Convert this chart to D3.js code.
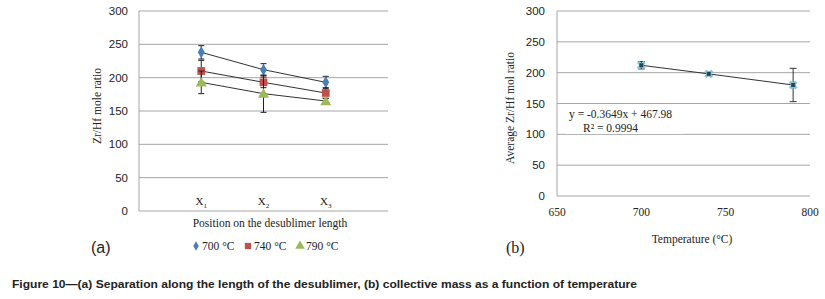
<!DOCTYPE html>
<html>
<head>
<meta charset="utf-8">
<script src="https://cdn.jsdelivr.net/npm/d3@7"></script>
<style>
  body { margin: 0; background: #fff; }
  svg { display: block; }
</style>
</head>
<body>
<svg id="fig" width="825" height="299"></svg>
<script>
// chart (a) data
const positions = ['X1', 'X2', 'X3']
const seriesNames = ['700 °C', '740 °C', '790 °C']
const ratio700 = [238, 212, 193]
const ratio740 = [210, 193, 177]
const ratio790 = [193, 176, 165]
const err700 = [10, 9, 9]
const err740 = [16, 8, 8]
const err790 = [17, 28, 4]
const yTicksA = [0, 50, 100, 150, 200, 250, 300]

// chart (b) data
const temps = [700, 740, 790]
const avgRatio = [212, 198, 180]
const avgErr = [6, 3, 27]
const xTicksB = [650, 700, 750, 800]
const yTicksB = [0, 50, 100, 150, 200, 250, 300]

const colors = ['#4a7ebb', '#c0504d', '#9bbb59']
const gridColor = '#a6a6a6'
const serif = "'Liberation Serif', 'DejaVu Serif', serif"
const sans = "'Liberation Sans', Arial, sans-serif"

const svg = d3.select('#fig')

// ---------- chart (a) ----------
const a = { left: 139, right: 388, top: 11, bottom: 211 }
const xA = d3.scalePoint().domain(positions).range([a.left, a.right]).padding(1)
const yA = d3.scaleLinear().domain([0, 300]).range([a.bottom, a.top])

const gA = svg.append('g')

gA.selectAll('.grid')
  .data(yTicksA)
  .enter()
  .append('line')
  .attr('x1', a.left)
  .attr('x2', a.right)
  .attr('y1', d => yA(d))
  .attr('y2', d => yA(d))
  .attr('stroke', gridColor)
  .attr('stroke-width', 1)

gA.append('line')
  .attr('x1', a.left).attr('x2', a.left)
  .attr('y1', a.top).attr('y2', a.bottom)
  .attr('stroke', gridColor)

gA.selectAll('.ytick')
  .data(yTicksA)
  .enter()
  .append('text')
  .attr('x', a.left - 11)
  .attr('y', d => yA(d))
  .attr('dy', '0.35em')
  .attr('text-anchor', 'end')
  .style('font-family', sans)
  .style('font-size', '11.5px')
  .attr('fill', '#222')
  .text(d => d)

// category labels with subscripts, sitting just above the baseline
gA.selectAll('.xlab')
  .data(positions)
  .enter()
  .append('text')
  .attr('x', d => xA(d))
  .attr('y', a.bottom - 6)
  .attr('text-anchor', 'middle')
  .style('font-family', serif)
  .style('font-size', '11px')
  .attr('fill', '#222')
  .each(function(d) {
    const t = d3.select(this)
    t.append('tspan').text('X')
    t.append('tspan').attr('dy', 3).style('font-size', '7px').text(d.slice(1))
  })

gA.append('text')
  .attr('x', 270)
  .attr('y', 227)
  .attr('text-anchor', 'middle')
  .style('font-family', serif)
  .style('font-size', '11.5px')
  .attr('fill', '#222')
  .text('Position on the desublimer length')

gA.append('text')
  .attr('transform', 'translate(101,106) rotate(-90)')
  .attr('text-anchor', 'middle')
  .style('font-family', serif)
  .style('font-size', '11.5px')
  .attr('fill', '#222')
  .text('Zr/Hf mole ratio')

const seriesA = [ratio700, ratio740, ratio790]
const errA = [err700, err740, err790]
const symbols = [d3.symbolDiamond, d3.symbolSquare, d3.symbolTriangle]
const symSizes = [42, 60, 52]

const lineA = d3.line()
  .x((d, i) => xA(positions[i]))
  .y(d => yA(d))

seriesA.forEach(function(vals, s) {
  gA.append('path')
    .datum(vals)
    .attr('d', lineA)
    .attr('fill', 'none')
    .attr('stroke', '#333')
    .attr('stroke-width', 1)

  vals.forEach(function(v, i) {
    const x = xA(positions[i])
    const e = errA[s][i]
    gA.append('line')
      .attr('x1', x).attr('x2', x)
      .attr('y1', yA(v - e)).attr('y2', yA(v + e))
      .attr('stroke', '#222')
    ;[v - e, v + e].forEach(function(c) {
      gA.append('line')
        .attr('x1', x - 3).attr('x2', x + 3)
        .attr('y1', yA(c)).attr('y2', yA(c))
        .attr('stroke', '#222')
    })
  })

  gA.selectAll('.m' + s)
    .data(vals)
    .enter()
    .append('path')
    .attr('d', d3.symbol().type(symbols[s]).size(symSizes[s]))
    .attr('transform', (d, i) => 'translate(' + xA(positions[i]) + ',' + (yA(d) + (s === 2 ? 1 : 0)) + ')')
    .attr('fill', colors[s])
})

// legend
const legendX = [192, 244, 296]
seriesNames.forEach(function(name, s) {
  gA.append('path')
    .attr('d', d3.symbol().type(symbols[s]).size(s === 0 ? 26 : 40))
    .attr('transform', 'translate(' + (legendX[s] + 4) + ',246)')
    .attr('fill', colors[s])
  gA.append('text')
    .attr('x', legendX[s] + 10)
    .attr('y', 250)
    .style('font-family', serif)
    .style('font-size', '11.5px')
    .attr('fill', '#222')
    .text(name)
})

svg.append('text')
  .attr('x', 91)
  .attr('y', 253)
  .style('font-family', sans)
  .style('font-size', '16px')
  .attr('fill', '#222')
  .text('(a)')

// ---------- chart (b) ----------
const b = { left: 557, right: 810, top: 11, bottom: 196 }
const xB = d3.scaleLinear().domain([650, 800]).range([b.left, b.right])
const yB = d3.scaleLinear().domain([0, 300]).range([b.bottom, b.top])

const gB = svg.append('g')

gB.selectAll('.grid')
  .data(yTicksB)
  .enter()
  .append('line')
  .attr('x1', b.left)
  .attr('x2', b.right)
  .attr('y1', d => yB(d))
  .attr('y2', d => yB(d))
  .attr('stroke', gridColor)

gB.append('line')
  .attr('x1', b.left).attr('x2', b.left)
  .attr('y1', b.top).attr('y2', b.bottom)
  .attr('stroke', gridColor)

gB.selectAll('.ytick')
  .data(yTicksB)
  .enter()
  .append('text')
  .attr('x', b.left - 12)
  .attr('y', d => yB(d))
  .attr('dy', '0.35em')
  .attr('text-anchor', 'end')
  .style('font-family', sans)
  .style('font-size', '11.5px')
  .attr('fill', '#222')
  .text(d => d)

gB.selectAll('.xtick')
  .data(xTicksB)
  .enter()
  .append('text')
  .attr('x', d => xB(d))
  .attr('y', 216)
  .attr('text-anchor', 'middle')
  .style('font-family', serif)
  .style('font-size', '11.5px')
  .attr('fill', '#222')
  .text(d => d)

gB.append('text')
  .attr('x', 692)
  .attr('y', 243)
  .attr('text-anchor', 'middle')
  .style('font-family', serif)
  .style('font-size', '11.5px')
  .attr('fill', '#222')
  .text('Temperature (°C)')

gB.append('text')
  .attr('transform', 'translate(514,108) rotate(-90)')
  .attr('text-anchor', 'middle')
  .style('font-family', serif)
  .style('font-size', '11.5px')
  .attr('fill', '#222')
  .text('Average Zr/Hf mol ratio')

// equation box
gB.append('rect')
  .attr('x', 566).attr('y', 105)
  .attr('width', 118).attr('height', 29)
  .attr('fill', '#fff')
gB.append('text')
  .attr('x', 569).attr('y', 118)
  .style('font-family', serif)
  .style('font-size', '11.5px')
  .attr('fill', '#222')
  .text('y = -0.3649x + 467.98')
gB.append('text')
  .attr('x', 583).attr('y', 132)
  .style('font-family', serif)
  .style('font-size', '11.5px')
  .attr('fill', '#222')
  .text('R² = 0.9994')

const lineB = d3.line()
  .x((d, i) => xB(temps[i]))
  .y(d => yB(d))

gB.append('path')
  .datum(avgRatio)
  .attr('d', lineB)
  .attr('fill', 'none')
  .attr('stroke', '#333')

avgRatio.forEach(function(v, i) {
  const x = xB(temps[i])
  const e = avgErr[i]
  gB.append('line')
    .attr('x1', x).attr('x2', x)
    .attr('y1', yB(v - e)).attr('y2', yB(v + e))
    .attr('stroke', '#333')
  ;[v - e, v + e].forEach(function(c) {
    gB.append('line')
      .attr('x1', x - 3.5).attr('x2', x + 3.5)
      .attr('y1', yB(c)).attr('y2', yB(c))
      .attr('stroke', '#333')
  })
  gB.append('path')
    .attr('d', d3.symbol().type(d3.symbolCross).size(50))
    .attr('transform', 'translate(' + x + ',' + yB(v) + ') rotate(45)')
    .attr('fill', '#8fc7d6')
  gB.append('rect')
    .attr('x', x - 2).attr('y', yB(v) - 2)
    .attr('width', 4).attr('height', 4)
    .attr('fill', '#1f4a5a')
})

svg.append('text')
  .attr('x', 506)
  .attr('y', 253)
  .style('font-family', serif)
  .style('font-size', '16px')
  .attr('fill', '#222')
  .text('(b)')

// caption
svg.append('text')
  .attr('x', 12)
  .attr('y', 288)
  .style('font-family', sans)
  .style('font-weight', 'bold')
  .style('font-size', '11px')
  .attr('fill', '#222')
  .attr('textLength', 625)
  .attr('lengthAdjust', 'spacingAndGlyphs')
  .text('Figure 10\u2014(a) Separation along the length of the desublimer, (b) collective mass as a function of temperature')
</script>
</body>
</html>
